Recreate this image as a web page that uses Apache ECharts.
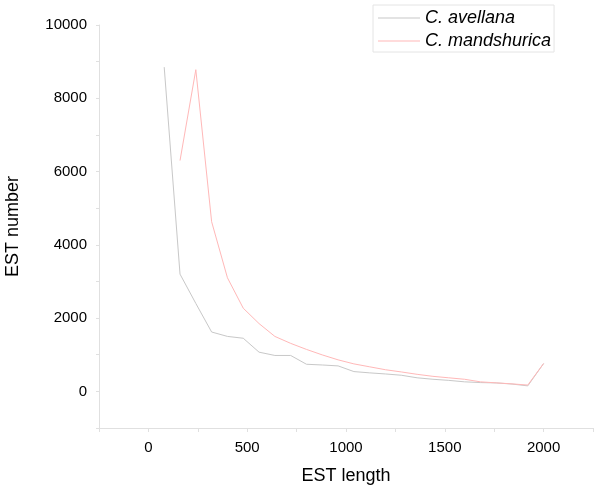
<!DOCTYPE html>
<html>
<head>
<meta charset="utf-8">
<script src="https://cdn.jsdelivr.net/npm/echarts@6/dist/echarts.min.js"></script>
<style>html,body{margin:0;padding:0;background:#fff}#c{width:600px;height:490px}</style>
</head>
<body>
<div id="c"></div>
<script>
var estLengthAvellana = [80,160,240,320,400,480,560,640,720,800,880,960,1040,1120,1200,1280,1360,1440,1520,1600,1680,1760,1840,1920,2000];
var avellanaValues = [8850,3200,2400,1620,1500,1450,1070,980,980,740,720,695,540,505,475,440,370,330,300,260,240,230,200,150,760];
var estLengthMandshurica = [160,240,320,400,480,560,640,720,800,880,960,1040,1120,1200,1280,1360,1440,1520,1600,1680,1760,1840,1920,2000];
var mandshuricaValues = [6300,8780,4630,3100,2270,1850,1500,1310,1145,995,860,750,670,590,530,465,410,370,330,260,232,204,172,760];
var seriesNames = ['C. avellana','C. mandshurica'];

function pairs(xs, ys){ return xs.map(function(x,i){ return [x, ys[i]]; }); }

var chart = echarts.init(document.getElementById('c'), null, {renderer:'canvas'});
var font = 'Liberation Sans, Arial, sans-serif';
var lineIcon = 'path://M0,0 L42,0 L42,1 L0,1 Z';
chart.setOption({
  animation:false,
  backgroundColor:'#fff',
  grid:{left:99, right:7, top:25, bottom:62, containLabel:false, outerBoundsMode:'none'},
  legend:{
    orient:'vertical', left:373, top:5,
    borderColor:'#e4e4e4', borderWidth:1,
    padding:[4,3,2,5], itemGap:5, itemWidth:42, itemHeight:18,
    textStyle:{fontFamily:font, fontSize:18, fontStyle:'italic', color:'#000'},
    data:[{name:seriesNames[0], icon:lineIcon},{name:seriesNames[1], icon:lineIcon}]
  },
  xAxis:{
    type:'value', min:-250, max:2250, interval:250,
    name:'EST length', nameLocation:'middle', nameGap:39,
    nameTextStyle:{fontFamily:font, fontSize:18, color:'#000'},
    axisLine:{show:true, onZero:false, lineStyle:{color:'#e0e0e0', width:1}},
    axisTick:{show:true, length:4, lineStyle:{color:'#e0e0e0'}},
    splitLine:{show:false},
    axisLabel:{fontFamily:font, fontSize:15, color:'#000', margin:12,
      formatter:function(v){ return (v % 500 === 0) ? String(v) : ''; }}
  },
  yAxis:{
    type:'value', min:-1000, max:10000, interval:1000,
    name:'EST number', nameLocation:'middle', nameGap:77, nameRotate:90,
    nameTextStyle:{fontFamily:font, fontSize:18, color:'#000'},
    axisLine:{show:true, onZero:false, lineStyle:{color:'#e0e0e0', width:1}},
    axisTick:{show:true, length:3, lineStyle:{color:'#e0e0e0'}},
    splitLine:{show:false},
    axisLabel:{fontFamily:font, fontSize:15, color:'#000', margin:12,
      formatter:function(v){ return (v % 2000 === 0) ? String(v) : ''; }}
  },
  series:[
    {name:seriesNames[0], type:'line', showSymbol:false, symbol:'none',
     data:pairs(estLengthAvellana, avellanaValues),
     lineStyle:{color:'#c8c8c8', width:1}, itemStyle:{color:'#c8c8c8'}},
    {name:seriesNames[1], type:'line', showSymbol:false, symbol:'none',
     data:pairs(estLengthMandshurica, mandshuricaValues),
     lineStyle:{color:'#ffb8b8', width:1}, itemStyle:{color:'#ffb8b8'}}
  ]
});
</script>
</body>
</html>
